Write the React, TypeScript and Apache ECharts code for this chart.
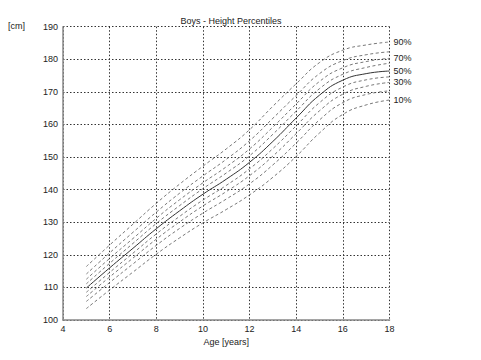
import React, { useEffect, useRef } from "react";
import * as echarts from "echarts";

const ages = [5, 6, 7, 8, 9, 10, 11, 12, 13, 14, 15, 16, 17, 18];

const p10 = [103.5, 109.2, 114.7, 120.2, 125.2, 129.8, 133.9, 138.4, 143.8, 150.2, 157.4, 163.1, 166.0, 167.5];
const p20 = [105.7, 111.5, 117.2, 122.9, 128.1, 132.8, 137.1, 141.8, 147.6, 154.3, 161.4, 166.7, 169.2, 170.3];
const p30 = [107.2, 113.2, 119.0, 124.8, 130.1, 135.0, 139.4, 144.3, 150.3, 157.2, 164.2, 169.3, 171.7, 172.9];
const p40 = [108.5, 114.6, 120.5, 126.4, 131.8, 136.8, 141.3, 146.4, 152.6, 159.6, 166.7, 171.5, 173.7, 174.6];
const p50 = [109.8, 116.0, 122.0, 128.0, 133.5, 138.6, 143.2, 148.4, 154.8, 162.0, 169.0, 173.6, 175.6, 176.4];
const p60 = [111.1, 117.4, 123.5, 129.6, 135.1, 140.3, 145.1, 150.4, 157.0, 164.1, 171.0, 175.4, 177.5, 178.8];
const p70 = [112.5, 118.9, 125.0, 131.2, 136.9, 142.1, 147.0, 152.5, 159.2, 166.3, 173.2, 177.4, 179.3, 180.3];
const p80 = [114.1, 120.6, 126.9, 133.1, 138.9, 144.2, 149.3, 155.0, 161.9, 168.9, 175.6, 179.6, 181.4, 182.3];
const p90 = [116.4, 123.0, 129.4, 135.8, 141.7, 147.2, 152.5, 158.4, 165.6, 172.5, 179.0, 182.8, 184.4, 185.3];

const percentiles = [
  { name: "10%", values: p10, labeled: true },
  { name: "20%", values: p20, labeled: false },
  { name: "30%", values: p30, labeled: true },
  { name: "40%", values: p40, labeled: false },
  { name: "50%", values: p50, labeled: true },
  { name: "60%", values: p60, labeled: false },
  { name: "70%", values: p70, labeled: true },
  { name: "80%", values: p80, labeled: false },
  { name: "90%", values: p90, labeled: true },
];

const FONT = "'Liberation Sans', Arial, Helvetica, sans-serif";

export default function App() {
  const ref = useRef<HTMLDivElement>(null);
  useEffect(() => {
    if (!ref.current) return;
    const chart = echarts.init(ref.current, undefined, { renderer: "svg" });
    const series = percentiles.map((p) => {
      const solid = p.name === "50%";
      return {
        name: p.name,
        type: "line",
        data: ages.map((a, i) => [a, p.values[i]]),
        smooth: 0.5,
        showSymbol: false,
        symbol: "none",
        silent: true,
        lineStyle: {
          color: solid ? "#333" : "#555",
          width: solid ? 1 : 0.8,
          type: solid ? "solid" : [3, 2.5],
        },
        endLabel: p.labeled
          ? {
              show: true,
              formatter: p.name,
              color: "#222",
              fontSize: 9,
              fontFamily: FONT,
              distance: 4,
            }
          : { show: false },
      };
    });
    chart.setOption({
      animation: false,
      backgroundColor: "#fff",
      title: {
        text: "Boys - Height Percentiles",
        left: 226,
        top: 11,
        textAlign: "center",
        textStyle: { fontSize: 9, fontWeight: "normal", color: "#222", fontFamily: FONT },
      },
      graphic: [
        {
          type: "text",
          left: 8,
          top: 21,
          style: { text: "[cm]", fontSize: 9, fill: "#222", fontFamily: FONT },
        },
      ],
      grid: { left: 63, right: 91.5, top: 26.7, bottom: 40, containLabel: false },
      xAxis: {
        type: "value",
        min: 4,
        max: 18,
        interval: 2,
        name: "Age [years]",
        nameLocation: "middle",
        nameGap: 17,
        nameTextStyle: { fontSize: 9, color: "#222", fontFamily: FONT },
        axisLine: { show: true, lineStyle: { color: "#888", width: 1.5 } },
        axisTick: { show: false },
        axisLabel: { fontSize: 9, color: "#222", fontFamily: FONT, margin: 4 },
        splitLine: { show: true, lineStyle: { color: "#333", width: 1, type: [1.5, 2] } },
      },
      yAxis: {
        type: "value",
        min: 100,
        max: 190,
        interval: 10,
        axisLine: { show: true, lineStyle: { color: "#888", width: 1.5 } },
        axisTick: { show: false },
        axisLabel: { fontSize: 9, color: "#222", fontFamily: FONT, margin: 5 },
        splitLine: { show: true, lineStyle: { color: "#333", width: 1, type: [1.5, 2] } },
      },
      series,
    });
    return () => chart.dispose();
  }, []);
  return <div ref={ref} style={{ width: 481, height: 360, position: "absolute", left: 0, top: 0 }} />;
}
